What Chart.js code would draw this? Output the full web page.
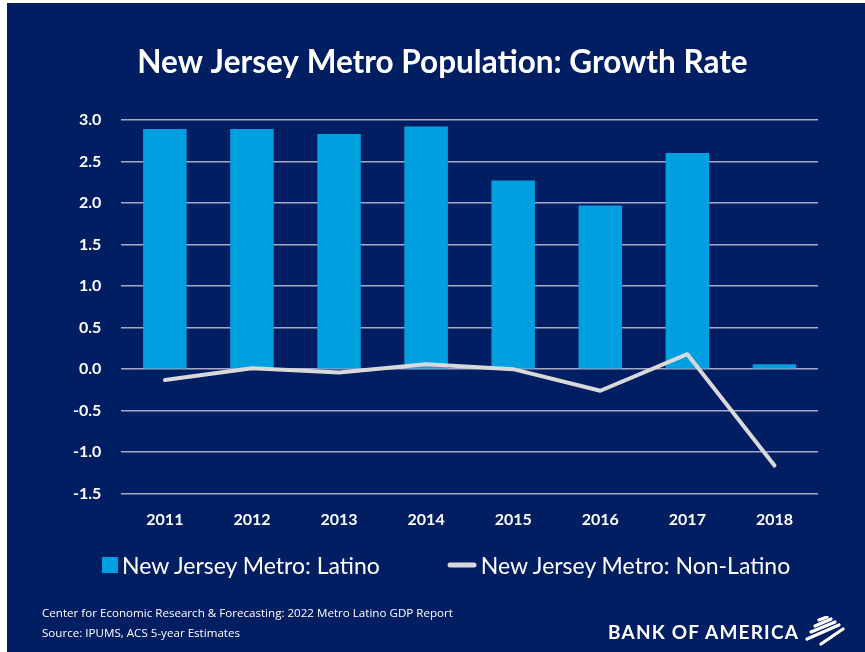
<!DOCTYPE html>
<html>
<head>
<meta charset="utf-8">
<script src="https://cdn.jsdelivr.net/npm/chart.js@4.4.1/dist/chart.umd.min.js"></script>
<style>
    html, body { margin: 0; padding: 0; background: #ffffff; }
    #panel {
        position: absolute; left: 7px; top: 3px;
        width: 858px; height: 649px;
        background: #021e63;
        overflow: hidden;
    }
    #chart { position: absolute; left: 0; top: 0; }
    #legend {
        position: absolute; left: 95px; top: 546px; height: 32px;
        display: flex; align-items: center;
        font-family: "Lato", sans-serif; font-size: 23px; color: #ffffff;
        white-space: nowrap;
    }
    .item { display: flex; align-items: center; }
    .item + .item { margin-left: 67px; }
    .swatch { margin-right: 4px; }
    .foot {
        position: absolute; left: 35px; color: #ffffff;
        font-family: "Open Sans", sans-serif; font-size: 11.6px;
        white-space: nowrap;
    }
    #logo {
        position: absolute; left: 601px; top: 617px; color: #ffffff;
        font-family: "Lato", sans-serif; font-weight: bold; font-size: 19px;
        letter-spacing: 1.2px; white-space: nowrap;
    }
    #flag { position: absolute; left: 794px; top: 613px; }
</style>
</head>
<body>
<div id="panel">
    <canvas id="chart" width="858" height="649"></canvas>
    <div id="legend"></div>
    <div class="foot" style="top:602px">Center for Economic Research &amp; Forecasting: 2022 Metro Latino GDP Report</div>
    <div class="foot" style="top:622px">Source: IPUMS, ACS 5-year Estimates</div>
    <div id="logo">BANK OF AMERICA</div>
    <svg id="flag" width="46" height="30" viewBox="0 0 46 30">
        <g stroke="#ffffff" stroke-width="3.2" stroke-linecap="round" fill="none">
            <path d="M18 4 L26 1"/>
            <path d="M14 10 L30 3"/>
            <path d="M10 16 L34 6"/>
            <path d="M6 23 L38 9"/>
            <path d="M20 28 L42 13"/>
        </g>
    </svg>
</div>
<script>
const years = ['2011', '2012', '2013', '2014', '2015', '2016', '2017', '2018'];
const latino = [2.89, 2.89, 2.83, 2.92, 2.27, 1.97, 2.60, 0.06];
const nonLatino = [-0.13, 0.01, -0.04, 0.06, 0.00, -0.26, 0.18, -1.16];
const seriesNames = ['New Jersey Metro: Latino', 'New Jersey Metro: Non-Latino'];
const titleText = 'New Jersey Metro Population: Growth Rate';

const barColor = '#009fdf';
const lineColor = '#d9d9d9';
const gridColor = '#a8a8c8';

const chart = new Chart(document.getElementById('chart'), {
    type: 'bar',
    data: {
        labels: years,
        datasets: [
            {
                type: 'line',
                label: seriesNames[1],
                data: nonLatino,
                borderColor: lineColor,
                backgroundColor: lineColor,
                borderWidth: 4,
                borderCapStyle: 'round',
                borderJoinStyle: 'round',
                pointRadius: 0,
                tension: 0,
                order: 0
            },
            {
                label: seriesNames[0],
                data: latino,
                backgroundColor: barColor,
                categoryPercentage: 1,
                barPercentage: 0.5,
                order: 1
            }
        ]
    },
    options: {
        responsive: false,
        animation: false,
        // extra left padding recentres the title; the y axis gives it back in afterFit
        layout: { padding: { left: 60, right: 47, top: 0, bottom: 115 } },
        plugins: {
            title: {
                display: true,
                text: titleText,
                color: '#ffffff',
                font: { family: 'Lato', size: 31.5, weight: 'bold' },
                padding: { top: 41, bottom: 38 }
            },
            legend: { display: false },
            tooltip: { enabled: false }
        },
        scales: {
            x: {
                grid: { display: false },
                border: { display: false },
                ticks: {
                    color: '#ffffff',
                    font: { family: 'Lato', size: 16, weight: 'bold' },
                    padding: 8
                }
            },
            y: {
                min: -1.5,
                max: 3.0,
                afterFit: scale => { scale.width -= 14; },
                grid: { color: gridColor, lineWidth: 1.5, drawTicks: false },
                border: { display: false },
                ticks: {
                    stepSize: 0.5,
                    color: '#ffffff',
                    font: { family: 'Lato', size: 16, weight: 'bold' },
                    padding: 20,
                    callback: v => v.toFixed(1)
                }
            }
        }
    }
});

// html legend, bar series first then line series
function buildLegend(c) {
    const box = document.getElementById('legend');
    const items = c.data.datasets.slice().reverse();
    box.innerHTML = items.map(ds => {
        const swatch = ds.type === 'line'
            ? `<svg class="swatch" width="30" height="8"><line x1="3" y1="4" x2="27" y2="4" stroke="${lineColor}" stroke-width="5" stroke-linecap="round"/></svg>`
            : `<span class="swatch" style="display:inline-block;width:16px;height:16px;background:${barColor}"></span>`;
        return `<div class="item">${swatch}<span>${ds.label}</span></div>`;
    }).join('');
}
buildLegend(chart);
</script>
</body>
</html>
